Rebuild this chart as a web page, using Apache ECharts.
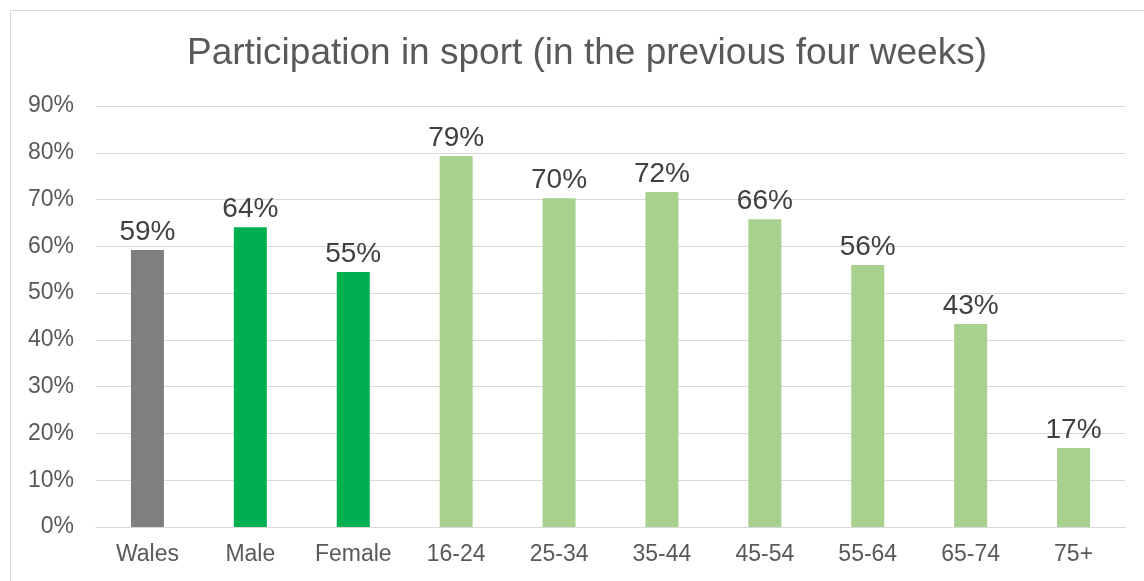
<!DOCTYPE html>
<html>
<head>
<meta charset="utf-8">
<script src="https://cdn.jsdelivr.net/npm/echarts@6/dist/echarts.min.js"></script>
<style>
  html, body { margin: 0; padding: 0; background: #fff; }
  #chart { width: 1144px; height: 581px; }
</style>
</head>
<body>
<div id="chart"></div>
<script>
const categories = ["Wales", "Male", "Female", "16-24", "25-34", "35-44", "45-54", "55-64", "65-74", "75+"];
const values = [59.2, 64.1, 54.5, 79.3, 70.3, 71.6, 65.8, 56.0, 43.4, 16.9];
const barColors = ["#7f7f7f", "#00b050", "#00b050", "#a9d18e", "#a9d18e", "#a9d18e", "#a9d18e", "#a9d18e", "#a9d18e", "#a9d18e"];

const chart = echarts.init(document.getElementById("chart"));
chart.setOption({
  animation: false,
  textStyle: { fontFamily: "Liberation Sans, Arial, sans-serif" },
  title: {
    text: "Participation in sport (in the previous four weeks)",
    left: 582,
    textAlign: "center",
    top: 30,
    textStyle: { fontSize: 37, fontWeight: "normal", color: "#595959", fontFamily: "Liberation Sans, Arial, sans-serif" }
  },
  graphic: [{
    type: "rect",
    shape: { x: 10.5, y: 10.5, width: 1150, height: 600 },
    style: { fill: "none", stroke: "#d9d9d9", lineWidth: 1 },
    silent: true
  }],
  grid: { left: 96, right: 19, top: 106, bottom: 54 },
  xAxis: {
    type: "category",
    data: categories,
    axisLine: { lineStyle: { color: "#d9d9d9", width: 1 } },
    axisTick: { show: false },
    axisLabel: { color: "#595959", fontSize: 23, margin: 16 }
  },
  yAxis: {
    type: "value",
    min: 0,
    max: 90,
    interval: 10,
    axisLine: { show: false },
    axisTick: { show: false },
    axisLabel: { color: "#595959", fontSize: 23, margin: 22, formatter: v => v + "%" },
    splitLine: { lineStyle: { color: "#d9d9d9", width: 1 } }
  },
  series: [{
    type: "bar",
    barWidth: 33,
    data: values.map((v, i) => ({ value: v, itemStyle: { color: barColors[i] } })),
    label: {
      show: true,
      position: "top",
      distance: 4,
      color: "#404040",
      fontSize: 28,
      formatter: p => Math.round(p.value) + "%"
    }
  }]
});
</script>
</body>
</html>
